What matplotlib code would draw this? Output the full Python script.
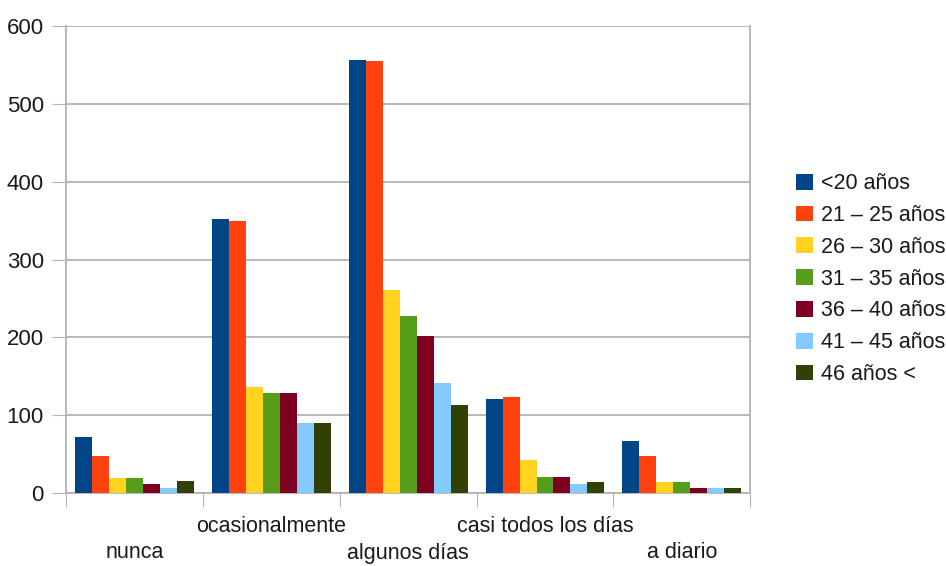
import numpy as np
import matplotlib.pyplot as plt
from matplotlib import transforms

plt.rcParams['font.family'] = ['Liberation Sans', 'DejaVu Sans']

# frecuencia por grupo de edad
categorias = ['nunca', 'ocasionalmente', 'algunos días', 'casi todos los días', 'a diario']
edades = ['<20 años', '21 – 25 años', '26 – 30 años', '31 – 35 años',
          '36 – 40 años', '41 – 45 años', '46 años <']
menos_20 = [72, 352, 557, 121, 67]
de_21_25 = [47, 349, 555, 123, 47]
de_26_30 = [19, 136, 261, 42, 14]
de_31_35 = [19, 129, 227, 20, 14]
de_36_40 = [12, 129, 202, 20, 6]
de_41_45 = [7, 90, 141, 11, 6]
mas_46 = [15, 90, 113, 14, 7]
series = [menos_20, de_21_25, de_26_30, de_31_35, de_36_40, de_41_45, mas_46]
colores = ['#004586', '#ff420e', '#ffd320', '#579d1c', '#7e0021', '#83caff', '#314004']

fig = plt.figure(figsize=(9.46, 5.66), dpi=100)
ax = fig.add_axes([0.070, 0.129, 0.723, 0.825])

x = np.arange(len(categorias))
w = 0.124
for i, (vals, c, lab) in enumerate(zip(series, colores, edades)):
    ax.bar(x + (i - 3) * w, vals, width=w, color=c, label=lab, zorder=3)

ax.set_xlim(-0.5, len(categorias) - 0.5)
ax.set_ylim(0, 600)
ax.set_yticks(np.arange(0, 601, 100))
ax.yaxis.grid(True, color='#b3b3b3', linewidth=1.3, zorder=0)
ax.tick_params(axis='y', length=10, color='#b3b3b3', labelsize=16, pad=6,
               labelcolor='#1a1a1a')
ax.set_xticks(np.arange(-0.5, len(categorias), 1.0))
ax.set_xticklabels([])
ax.tick_params(axis='x', length=10, color='#b3b3b3')
for s in ax.spines.values():
    s.set_color('#b3b3b3')
    s.set_linewidth(1.3)
ax.spines['top'].set_visible(False)

# etiquetas alternadas en dos filas
trans = transforms.blended_transform_factory(ax.transData, fig.transFigure)
for i, cat in enumerate(categorias):
    yfig = 1 - 527 / 566 if i % 2 else 1 - 553 / 566
    ax.text(i, yfig, cat, transform=trans, ha='center', va='center',
            fontsize=15.5, color='#1a1a1a')

leg = ax.legend(loc='center left', bbox_to_anchor=(1.055, 0.458), frameon=False,
                fontsize=15.5, handlelength=0.75, handleheight=0.75,
                handletextpad=0.4, labelspacing=0.5, borderaxespad=0)
for t in leg.get_texts():
    t.set_color('#1a1a1a')

plt.savefig('out.png', dpi=100)
